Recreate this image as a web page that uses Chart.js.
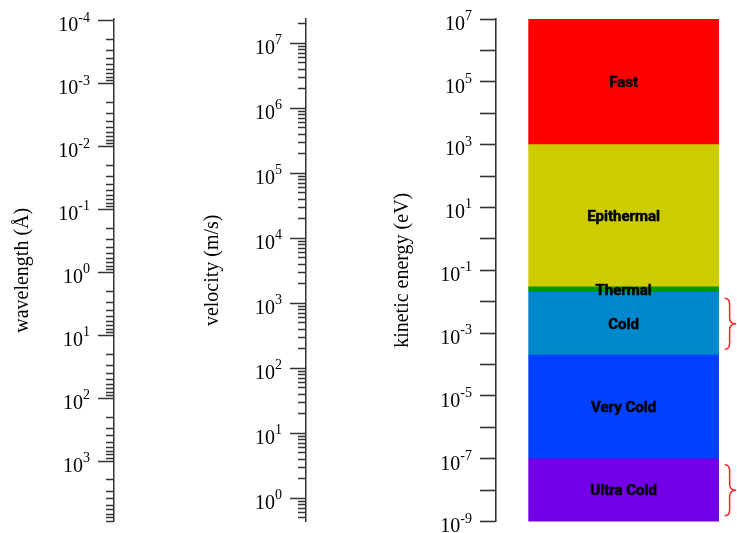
<!DOCTYPE html>
<html>
<head>
<meta charset="utf-8">
<script src="https://cdn.jsdelivr.net/npm/chart.js@4/dist/chart.umd.min.js"></script>
<style>
  html, body { margin: 0; padding: 0; background: #fff; overflow: hidden; }
  #c { display: block; }
</style>
</head>
<body>
<canvas id="c" width="737" height="533"></canvas>
<script>
// ---- data ----
const bandNames  = ['Fast', 'Epithermal', 'Thermal', 'Cold', 'Very Cold', 'Ultra Cold'];
const bandLow    = [1e3, 0.03, 0.02, 2e-4, 1e-7, 1e-9];   // eV
const bandHigh   = [1e7, 1e3, 0.03, 0.02, 2e-4, 1e-7];    // eV
const bandColors = ['#ff0000', '#cccc00', '#009900', '#0088cc', '#0040ff', '#7300e6'];
const bracedBands = ['Cold', 'Ultra Cold'];

const energyRange     = [1e-9, 1e7];
const wavelengthRange = [9.4e-5, 9180];
const velocityRange   = [0.438, 2.37e7];

const energyTickExponents     = [-9, -8, -7, -6, -5, -4, -3, -2, -1, 0, 1, 2, 3, 4, 5, 6, 7];
const energyLabelExponents    = [7, 5, 3, 1, -1, -3, -5, -7, -9];
const wavelengthLabelExponents = [-4, -3, -2, -1, 0, 1, 2, 3];
const velocityLabelExponents   = [0, 1, 2, 3, 4, 5, 6, 7];

// ---- helpers ----
function decadeTicks(range) {
  const out = [];
  const e0 = Math.floor(Math.log10(range[0]));
  const e1 = Math.ceil(Math.log10(range[1]));
  for (let e = e0; e <= e1; e++) {
    for (let m = 1; m <= 9; m++) {
      const v = m * Math.pow(10, e);
      if (v >= range[0] * 0.999999 && v <= range[1] * 1.000001) out.push({ value: v, minor: m !== 1 });
    }
  }
  return out;
}

const AXIS_COLOR = '#333';
function axisOpts(o) {
  return {
    type: 'logarithmic',
    axis: 'y',
    position: 'left',
    weight: o.weight,
    min: o.range[0],
    max: o.range[1],
    reverse: !!o.reverse,
    bounds: 'data',
    afterBuildTicks: (scale) => { scale.ticks = o.ticks; },
    afterFit: (scale) => { scale.width = o.width; },
    ticks: { display: false, autoSkip: false, callback: () => '' },
    grid: {
      display: true,
      drawOnChartArea: false,
      drawTicks: true,
      tickLength: 16,
      tickColor: AXIS_COLOR,
      tickWidth: o.tickWidth || 1.5,
      tickBorderDash: (ctx) => (ctx.tick && ctx.tick.minor) ? [8, 8] : [],
      tickBorderDashOffset: (ctx) => (ctx.tick && ctx.tick.minor) ? 8 : 0
    },
    border: { display: true, color: AXIS_COLOR, width: o.tickWidth || 1.5 },
    title: {
      display: true,
      text: o.title,
      color: '#000',
      font: { family: '"Liberation Serif", "Times New Roman", serif', size: 20 },
      padding: { top: o.titlePad, bottom: 0 }
    }
  };
}

function drawPow(ctx, xr, y, exp) {
  const e = String(exp);
  ctx.font = '20px "Liberation Serif", "Times New Roman", serif';
  const wb = ctx.measureText('10').width;
  ctx.font = '14px "Liberation Serif", "Times New Roman", serif';
  const we = ctx.measureText(e).width;
  ctx.fillStyle = '#000';
  ctx.textAlign = 'left';
  ctx.textBaseline = 'alphabetic';
  ctx.font = '20px "Liberation Serif", "Times New Roman", serif';
  ctx.fillText('10', xr - we - wb, y + 10.8);
  ctx.font = '14px "Liberation Serif", "Times New Roman", serif';
  ctx.fillText(e, xr - we, y + 1);
}

const labelPlugin = {
  id: 'powLabels',
  afterDraw(chart) {
    const ctx = chart.ctx;
    ctx.save();
    const sets = [
      ['wavelength', wavelengthLabelExponents],
      ['velocity', velocityLabelExponents],
      ['energy', energyLabelExponents]
    ];
    sets.forEach(([id, exps]) => {
      const s = chart.scales[id];
      exps.forEach((ex) => drawPow(ctx, s.right - 24, s.getPixelForValue(Math.pow(10, ex)), ex));
    });
    ctx.restore();
  }
};

const bandPlugin = {
  id: 'bandLabels',
  afterDatasetsDraw(chart) {
    const ctx = chart.ctx;
    const meta = chart.getDatasetMeta(0);
    const ys = chart.scales.energy;
    ctx.save();
    ctx.fillStyle = '#000';
    ctx.strokeStyle = '#000';
    ctx.lineWidth = 0.5;
    ctx.font = 'bold 15px Roboto, "Liberation Sans", sans-serif';
    ctx.textAlign = 'center';
    ctx.textBaseline = 'middle';
    bandNames.forEach((name, i) => {
      const el = meta.data[i];
      const ym = ys.getPixelForValue(Math.sqrt(bandLow[i] * bandHigh[i]));
      ctx.fillText(name, el.x, ym + 1.5);
      ctx.strokeText(name, el.x, ym + 1.5);
      if (bracedBands.includes(name)) {
        const x0 = el.x + el.width / 2 + 6;
        const x1 = x0 + 5;
        const x2 = x0 + 11.5;
        const h = 25.5;
        const top = ym - h, bot = ym + h;
        ctx.save();
        ctx.strokeStyle = '#ff2020';
        ctx.lineWidth = 1.5;
        ctx.beginPath();
        ctx.moveTo(x0, top);
        ctx.quadraticCurveTo(x1, top, x1, top + 6);
        ctx.lineTo(x1, ym - 6);
        ctx.quadraticCurveTo(x1, ym, x2, ym);
        ctx.quadraticCurveTo(x1, ym, x1, ym + 6);
        ctx.lineTo(x1, bot - 6);
        ctx.quadraticCurveTo(x1, bot, x0, bot);
        ctx.stroke();
        ctx.restore();
      }
    });
    ctx.restore();
  }
};

new Chart(document.getElementById('c'), {
  type: 'bar',
  data: {
    datasets: [{
      data: bandNames.map((n, i) => ({ x: 0, y: [bandLow[i], bandHigh[i]] })),
      backgroundColor: bandColors,
      borderWidth: 0,
      barThickness: 190,
      xAxisID: 'x',
      yAxisID: 'energy'
    }]
  },
  options: {
    responsive: false,
    animation: false,
    devicePixelRatio: 1,
    layout: { padding: { left: 0, right: 0, top: 19, bottom: 11.4 } },
    plugins: { legend: { display: false }, tooltip: { enabled: false } },
    scales: {
      x: { type: 'linear', min: -0.537, max: 0.463, display: false },
      wavelength: axisOpts({ weight: 3, width: 114, range: wavelengthRange, reverse: true,
        ticks: decadeTicks(wavelengthRange), title: 'wavelength (Å)', titlePad: 11 }),
      velocity: axisOpts({ weight: 2, width: 192, range: velocityRange,
        ticks: decadeTicks(velocityRange), title: 'velocity (m/s)', titlePad: 87 }),
      energy: axisOpts({ weight: 1, width: 190, range: energyRange, tickWidth: 1.6,
        ticks: energyTickExponents.map(e => ({ value: Math.pow(10, e), minor: false })),
        title: 'kinetic energy (eV)', titlePad: 85 })
    }
  },
  plugins: [labelPlugin, bandPlugin]
});
</script>
</body>
</html>
